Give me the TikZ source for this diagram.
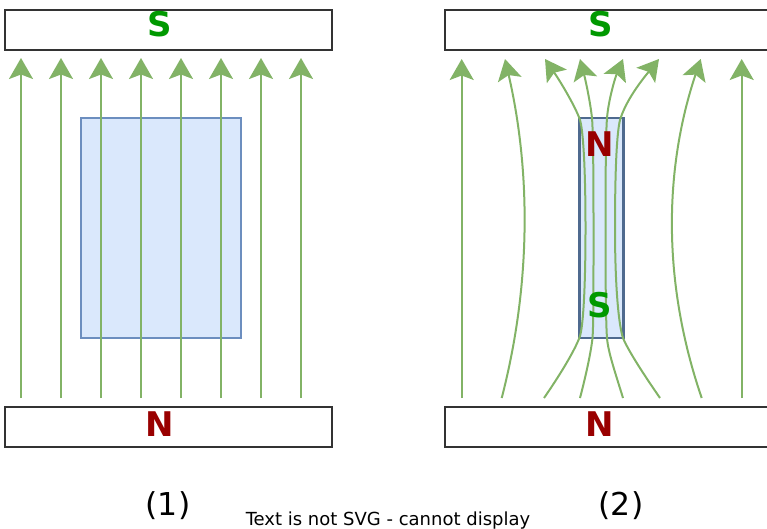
\documentclass[tikz,border=0pt]{standalone}
\usepackage{fontspec}
\setmainfont{DejaVu Sans}
\usepackage{xcolor}
\usetikzlibrary{arrows.meta}
\definecolor{fieldgreen}{HTML}{82B366}
\definecolor{poleS}{HTML}{009900}
\definecolor{poleN}{HTML}{990000}
\definecolor{ironfill}{HTML}{DAE8FC}
\definecolor{ironline}{HTML}{6C8EBF}
\definecolor{irondark}{HTML}{4F6A8F}

\begin{document}
\begin{tikzpicture}[x=1pt,y=-1pt,
  magnet/.style={draw=black!80, line width=2pt},
  fieldline/.style={fieldgreen, line width=2pt,
    -{Stealth[length=21pt,width=24pt,inset=4.5pt]}},
  letterS/.style={inner sep=0pt, text=poleS, font=\fontsize{34}{40}\selectfont\bfseries},
  letterN/.style={inner sep=0pt, text=poleN, font=\fontsize{34}{40}\selectfont\bfseries},
  caption/.style={inner sep=0pt, font=\fontsize{31.5}{36}\selectfont}]
\clip (0,0) rectangle (767,529);
 \draw[magnet] (5,10) rectangle (332,50)
		(5,407) rectangle (332,447)
		(445,10) rectangle (775,50)
		(445,407) rectangle (775,447);
 \draw[fill=ironfill, draw=ironline, line width=1.8pt] (81,118) rectangle (241,338);
 \draw[fill=ironfill, draw=irondark, line width=2.4pt] (579.3,118.3) rectangle (623.3,337.7);
 % feld 1
 \foreach \x in {21,61,...,301}
   \draw[fieldline] (\x,398) -- (\x,58);
 % feld 2
 \draw[fieldline] (461.7,398) -- (461.7,59);
 \draw[fieldline] (741.7,398) -- (741.7,59);
 \draw[fieldline] (501.7,398) .. controls (531,285) and (531,172) .. (505,59);
 \draw[fieldline] (701.7,398) .. controls (663,285) and (663,172) .. (700.7,59);
 \draw[fieldline] (544,398) .. controls (562,372) and (576,348) .. (580,336)
   .. controls (583,326) and (585.5,290) .. (585.5,228)
   .. controls (585.5,166) and (583,130) .. (580,120)
   .. controls (576,108) and (562,84) .. (545,59);
 \draw[fieldline] (580,398) .. controls (586,375) and (591,352) .. (592.5,338)
   .. controls (593.5,325) and (593.5,290) .. (593.5,228)
   .. controls (593.5,166) and (593,130) .. (592,118)
   .. controls (590,100) and (585,78) .. (580,59);
 \draw[fieldline] (623,398) .. controls (616,375) and (608,352) .. (607,338)
   .. controls (606,325) and (605.5,290) .. (605.5,228)
   .. controls (605.5,166) and (606,130) .. (607,118)
   .. controls (608.5,100) and (615,78) .. (623,59);
 \draw[fieldline] (660,398) .. controls (642,372) and (628,350) .. (623,338)
   .. controls (619,326) and (615,290) .. (615,228)
   .. controls (615,166) and (617,132) .. (620,120)
   .. controls (626,100) and (642,80) .. (659,59);
 % pole
 \node[letterS] (sL) at (160,24.5) {S};
 \node[letterN] (nL) at (160,424.5) {N};
 \node[letterS] (sR) at (600.5,24.5) {S};
 \node[letterN] (nR) at (600,424.5) {N};
 \node[letterN] (nI) at (600,143.7) {N};
 \node[letterS] (sI) at (600,305) {S};
 \node[caption] (cap1) at (168,506) {(1)};
 \node[caption] (cap2) at (621,506) {(2)};
 \node[inner sep=0pt, font=\fontsize{18}{21}\selectfont] (warn) at (388,521) {Text is not SVG - cannot display};
\end{tikzpicture}
\end{document}
